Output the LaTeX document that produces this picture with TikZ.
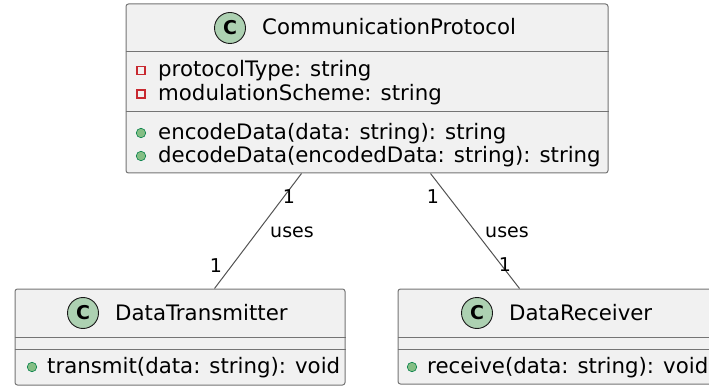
\documentclass[tikz,border=0pt]{standalone}
\usepackage{fontspec}
\setmainfont{DejaVu Sans}
\usepackage{xcolor}
\usetikzlibrary{calc}
\definecolor{UmlFill}{HTML}{F1F1F1}
\definecolor{UmlLine}{HTML}{181818}
\definecolor{UmlSpot}{HTML}{ADD1B2}
\definecolor{UmlPriv}{HTML}{C82930}
\definecolor{UmlPub}{HTML}{84BE84}
\definecolor{UmlPubLine}{HTML}{038048}

\begin{document}
\begin{tikzpicture}[x=1pt, y=-1pt,
  cls/.style={draw=UmlLine!60, fill=UmlFill, rounded corners=2.5pt, line width=1pt, inner sep=0pt},
  div/.style={draw=UmlLine!60, line width=1pt},
  spot/.style={circle, draw=UmlLine, fill=UmlSpot, minimum size=31pt, inner sep=0pt, line width=0.9pt, font=\fontsize{19}{19}\selectfont\bfseries},
  txt/.style={anchor=base west, inner sep=0pt, font=\fontsize{21.3}{24}\selectfont},
  priv/.style={draw=UmlPriv, line width=1.1pt, minimum size=8pt, inner sep=0pt},
  pub/.style={circle, draw=UmlPubLine, fill=UmlPub, minimum size=9.5pt, inner sep=0pt, line width=0.6pt},
  assoc/.style={draw=UmlLine!75, line width=1pt},
  mult/.style={inner sep=0pt, font=\fontsize{19}{19}\selectfont}
]
  \clip (0,0) rectangle (709,387);

  % class boxes
  \node[cls, minimum width=482pt, minimum height=169pt] (proto) at (367,88.5) {};
  \node[cls, minimum width=330pt, minimum height=96pt] (trans) at (180,337) {};
  \node[cls, minimum width=318pt, minimum height=95pt] (recv) at (557,336.5) {};

  % compartments
  \draw[div] ($(proto.north west)+(0,48)$) -- ($(proto.north east)+(0,48)$);
  \draw[div] ($(proto.north west)+(0,108)$) -- ($(proto.north east)+(0,108)$);
  \draw[div] ($(trans.north west)+(0,49)$) -- ($(trans.north east)+(0,49)$);
  \draw[div] ($(trans.north west)+(0,61)$) -- ($(trans.north east)+(0,61)$);
  \draw[div] ($(recv.north west)+(0,49)$) -- ($(recv.north east)+(0,49)$);
  \draw[div] ($(recv.north west)+(0,61)$) -- ($(recv.north east)+(0,61)$);

  % CommunicationProtocol
  \node[spot] (protoC) at (230,28) {C};
  \node[txt] (protoName) at (262,35) {CommunicationProtocol};
  \node[priv] (a1icon) at (141,70.5) {};
  \node[txt] (a1) at (158,77) {protocolType: string};
  \node[priv] (a2icon) at (141,94) {};
  \node[txt] (a2) at (158,100.5) {modulationScheme: string};
  \node[pub] (m1icon) at (141,133) {};
  \node[txt] (m1) at (158,139.5) {encodeData(data: string): string};
  \node[pub] (m2icon) at (141,156) {};
  \node[txt] (m2) at (158,162.5) {decodeData(encodedData: string): string};

  % DataTransmitter
  \node[spot] (transC) at (83,313) {C};
  \node[txt] (transName) at (115,320.5) {DataTransmitter};
  \node[pub] (t1icon) at (32,367) {};
  \node[txt] (t1) at (47,373.5) {transmit(data: string): void};

  % DataReceiver
  \node[spot] (recvC) at (477,313) {C};
  \node[txt] (recvName) at (509,320.5) {DataReceiver};
  \node[pub] (r1icon) at (412,367) {};
  \node[txt] (r1) at (427,373.5) {receive(data: string): void};

  % associations
  \draw[assoc] ($(proto.south west)+(176,0)$) -- ($(trans.north west)+(200,0)$);
  \draw[assoc] ($(proto.south west)+(305,0)$) -- ($(recv.north west)+(122,0)$);

  \node[mult] (l1) at (289,197) {1};
  \node[mult] (l2) at (292,232) {uses};
  \node[mult] (l3) at (216,266) {1};
  \node[mult] (r1m) at (433,197) {1};
  \node[mult] (r2m) at (507,232) {uses};
  \node[mult] (r3m) at (505,265) {1};
\end{tikzpicture}
\end{document}
